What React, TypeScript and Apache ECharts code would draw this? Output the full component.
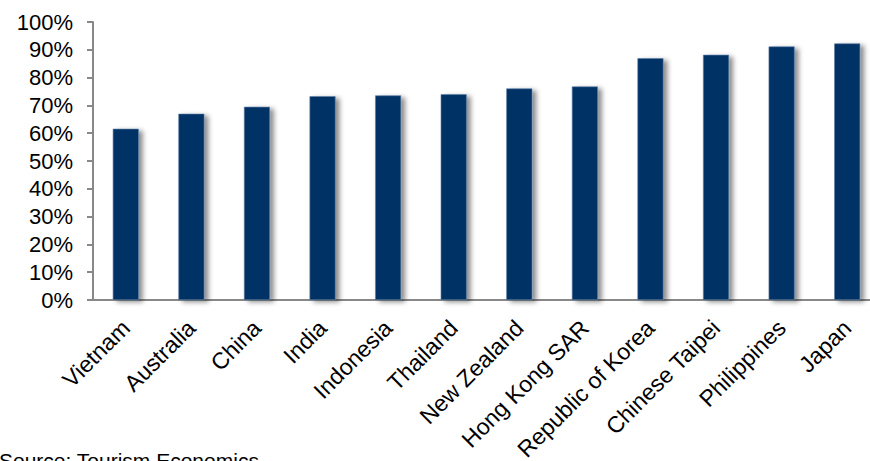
import React, { useEffect, useRef } from "react";
import * as echarts from "echarts";

const categories = [
  "Vietnam",
  "Australia",
  "China",
  "India",
  "Indonesia",
  "Thailand",
  "New Zealand",
  "Hong Kong SAR",
  "Republic of Korea",
  "Chinese Taipei",
  "Philippines",
  "Japan",
];
const values = [61.6, 67.0, 69.5, 73.3, 73.6, 74.0, 76.1, 76.8, 87.0, 88.2, 91.2, 92.3];
const yTicks = [0, 10, 20, 30, 40, 50, 60, 70, 80, 90, 100];
const sourceText = "Source: Tourism Economics";

export default function App() {
  const ref = useRef<HTMLDivElement>(null);
  useEffect(() => {
    if (!ref.current) return;
    const chart = echarts.init(ref.current, null, { renderer: "svg" });
    const font = "'Liberation Sans', Arial, sans-serif";
    chart.setOption({
      animation: false,
      backgroundColor: "#ffffff",
      grid: {
        left: 93,
        width: 787,
        top: 22,
        height: 278,
        containLabel: false,
        outerBoundsMode: "none",
      },
      xAxis: {
        type: "category",
        data: categories,
        axisLine: { show: true, lineStyle: { color: "#888888", width: 2 } },
        axisTick: { show: false },
        axisLabel: {
          rotate: 45,
          interval: 0,
          margin: 24,
          color: "#000000",
          fontFamily: font,
          fontSize: 23,
        },
      },
      yAxis: {
        type: "value",
        min: yTicks[0],
        max: yTicks[yTicks.length - 1],
        interval: 10,
        splitLine: { show: false },
        axisLine: { show: true, lineStyle: { color: "#888888", width: 2 } },
        axisTick: { show: true, length: 6, lineStyle: { color: "#888888", width: 2 } },
        axisLabel: {
          margin: 20,
          color: "#000000",
          fontFamily: font,
          fontSize: 22,
          formatter: "{value}%",
        },
      },
      series: [
        {
          type: "bar",
          data: values,
          barWidth: 26,
          itemStyle: {
            color: "#003366",
            borderColor: "#5f7fa6",
            borderWidth: 0.6,
            shadowColor: "rgba(0,0,0,0.45)",
            shadowBlur: 5,
            shadowOffsetX: 4,
            shadowOffsetY: 2,
          },
        },
      ],
      graphic: [
        {
          type: "text",
          left: -1,
          top: 450,
          style: {
            text: sourceText,
            fontFamily: font,
            fontSize: 21,
            fill: "#000000",
          },
        },
      ],
    });
    return () => chart.dispose();
  }, []);
  return (
    <div
      ref={ref}
      style={{ position: "fixed", left: 0, top: 0, width: 870, height: 461 }}
    />
  );
}
